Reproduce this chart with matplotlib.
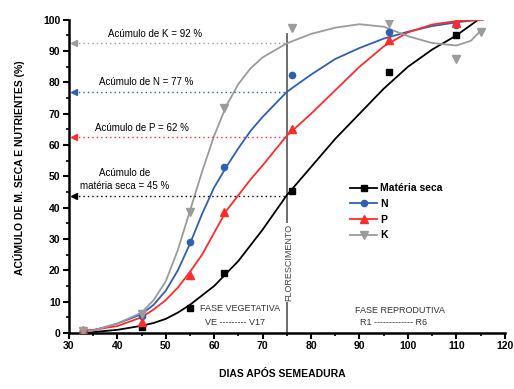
import matplotlib
matplotlib.use('Agg')
import matplotlib.pyplot as plt
from matplotlib.lines import Line2D
from matplotlib.ticker import MultipleLocator

plt.rcParams['font.family'] = ['Liberation Sans', 'DejaVu Sans']

# pontos observados (dias após semeadura)
dias = [33, 45, 55, 62, 76, 96, 110]
ms_obs = [0.3, 2, 8, 19, 45.5, 83.5, 95]
n_obs = [0.5, 5.5, 29, 53, 82.5, 96, 98.5]
p_obs = [0.8, 3.5, 18.5, 38.5, 65, 93.5, 99]
dias_k = [33, 45, 55, 62, 76, 96, 110, 115]
k_obs = [0.5, 6, 38.5, 72, 97.5, 99, 87.5, 96]

# curvas ajustadas
cx = [33, 35, 40, 45, 47.5, 50, 52.5, 55, 57.5, 60, 62.5, 65, 67.5, 70, 75, 80, 85, 90, 95, 100, 105, 110, 114.5]
ms_fit = [0, 0.3, 1, 2.3, 3.2, 4.5, 6.5, 9, 12, 15, 19, 23, 28, 33, 44, 53, 62, 70, 78, 85, 90.5, 95, 100]
n_fit = [0.3, 0.8, 3, 6, 9, 13.5, 20, 28.5, 38, 46.5, 53, 59, 64.5, 69, 77, 82.5, 87.5, 91, 94, 96.2, 98, 99.2, 100]
cx_p = [33, 35, 40, 45, 47.5, 50, 52.5, 55, 57.5, 60, 62.5, 65, 67.5, 70, 75, 80, 85, 90, 95, 100, 105, 110, 115.5]
p_fit = [0.8, 1, 2.2, 5, 7.5, 10.5, 14.5, 19.5, 25, 32, 39, 44, 49, 53.5, 63, 70, 77.5, 85, 91.5, 96, 98.5, 99.6, 100]
cx_k = [33, 35, 40, 45, 47.5, 50, 52.5, 55, 57.5, 60, 62.5, 65, 67.5, 70, 75, 80, 85, 90, 95, 100, 105, 110, 113, 115]
k_fit = [0.3, 0.8, 3, 6.5, 10.5, 16.5, 26.5, 39, 51.5, 63, 72.5, 79.5, 84.5, 88, 92.5, 95.5, 97.5, 98.6, 97.8, 94.8, 92.6, 91.8, 93.3, 96.5]

# acúmulo no florescimento
flor = 75
acum_vals = [92.5, 77, 62.5, 43.8]
acum_txt = ['Acúmulo de K = 92 %', 'Acúmulo de N = 77 %', 'Acúmulo de P = 62 %',
            'Acúmulo de\nmatéria seca = 45 %']

c_ms, c_n, c_p, c_k = 'black', '#2f5fb5', '#ff2b2b', '#9b9b9b'

fig = plt.figure(figsize=(5.14, 3.89), dpi=100)
ax = fig.add_axes([0.134, 0.144, 0.848, 0.805])

ax.plot(cx, ms_fit, color=c_ms, lw=1.3)
ax.plot(cx, n_fit, color=c_n, lw=1.3)
ax.plot(cx_p, p_fit, color=c_p, lw=1.3)
ax.plot(cx_k, k_fit, color=c_k, lw=1.3)

ax.plot(dias, ms_obs, 's', color=c_ms, ms=5, zorder=5)
ax.plot(dias, n_obs, 'o', color=c_n, ms=4.5, zorder=5)
ax.plot(dias, p_obs, '^', color=c_p, ms=6, zorder=5)
ax.plot(dias_k, k_obs, 'v', color=c_k, ms=6, zorder=5)

# linhas pontilhadas de acúmulo
for v, c in zip(acum_vals, [c_k, c_n, c_p, c_ms]):
    ax.plot([31, flor], [v, v], color=c, lw=1, ls=(0, (1, 2.2)))
    ax.plot([31], [v], '<', color=c, ms=4.5, clip_on=False)

ax.text(47.8, 94, acum_txt[0], fontsize=7, ha='center', va='bottom')
ax.text(46, 78.5, acum_txt[1], fontsize=7, ha='center', va='bottom')
ax.text(45, 64, acum_txt[2], fontsize=7, ha='center', va='bottom')
ax.text(41.5, 45.3, acum_txt[3], fontsize=7, ha='center', va='bottom', linespacing=1.4)

# florescimento
ax.plot([flor, flor], [0, 95.5], color='#555555', lw=1.2, zorder=1)
ax.text(flor + 0.3, 22.5, 'FLORESCIMENTO', rotation=90, fontsize=6.5, color='#444444',
        ha='center', va='center', bbox=dict(facecolor='white', edgecolor='none', pad=1))

ax.text(65.3, 7.7, 'FASE VEGETATIVA', fontsize=6.5, color='#333333', ha='center', va='center')
ax.text(64.3, 3.5, 'VE --------- V17', fontsize=6.5, color='#333333', ha='center', va='center')
ax.text(98.3, 7.3, 'FASE REPRODUTIVA', fontsize=6.5, color='#333333', ha='center', va='center')
ax.text(97, 3.2, 'R1 ------------- R6', fontsize=6.5, color='#333333', ha='center', va='center')

ax.set_xlim(30, 120)
ax.set_ylim(0, 100)
ax.spines['top'].set_visible(False)
ax.spines['right'].set_visible(False)
ax.spines['left'].set_linewidth(1.8)
ax.spines['bottom'].set_linewidth(1.8)
ax.xaxis.set_major_locator(MultipleLocator(10))
ax.xaxis.set_minor_locator(MultipleLocator(5))
ax.yaxis.set_major_locator(MultipleLocator(10))
ax.yaxis.set_minor_locator(MultipleLocator(5))
ax.tick_params(which='major', direction='out', length=4, width=1.5, labelsize=7.5, pad=2)
ax.tick_params(which='minor', direction='out', length=2.5, width=1.2)
for lab in ax.get_xticklabels() + ax.get_yticklabels():
    lab.set_fontweight('bold')

ax.set_xlabel('DIAS APÓS SEMEADURA', fontsize=7.5, fontweight='bold')
ax.set_ylabel('ACÚMULO DE M. SECA E NUTRIENTES (%)', fontsize=7.5, fontweight='bold')
ax.xaxis.set_label_coords(0.489, -0.115)
ax.yaxis.set_label_coords(-0.1, 0.527)

handles = [Line2D([], [], color=c_ms, marker='s', ms=5, lw=1.3),
           Line2D([], [], color=c_n, marker='o', ms=4.5, lw=1.3),
           Line2D([], [], color=c_p, marker='^', ms=6, lw=1.3),
           Line2D([], [], color=c_k, marker='v', ms=6, lw=1.3)]
leg = fig.legend(handles, ['Matéria seca', 'N', 'P', 'K'], loc='upper left',
                 bbox_to_anchor=(345 / 514, 1 - 178 / 389), frameon=False,
                 borderpad=0, handlelength=2.6, handletextpad=0.3, labelspacing=0.55,
                 prop={'size': 7.5, 'weight': 'bold'})

fig.savefig('out.png', dpi=100)
